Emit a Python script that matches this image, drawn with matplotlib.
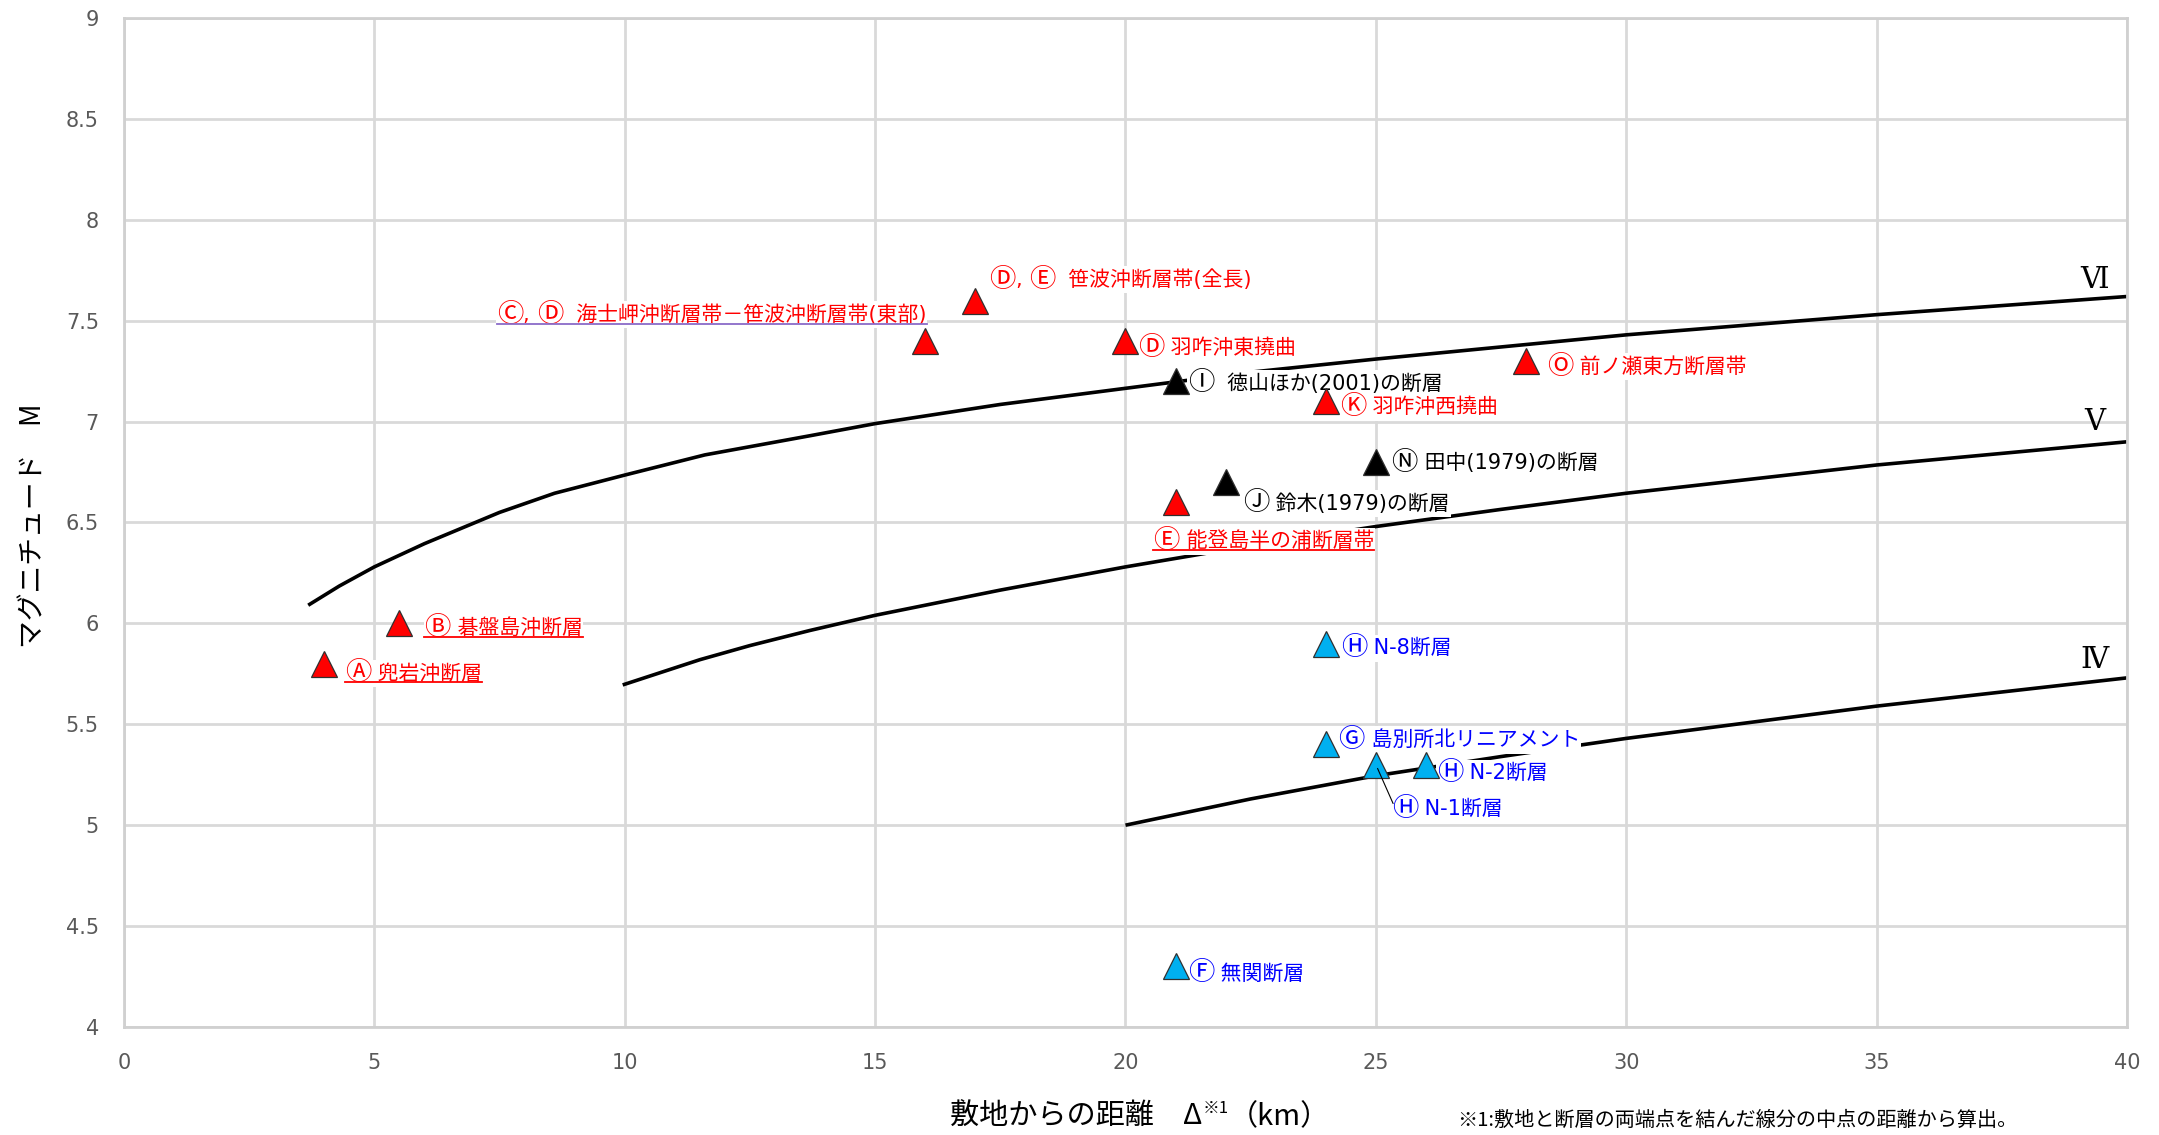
import matplotlib
matplotlib.use('Agg')
from matplotlib import pyplot as plt
from matplotlib.lines import Line2D
from matplotlib.offsetbox import TextArea, HPacker, AnnotationBbox

plt.rcParams['font.family'] = ['Noto Sans CJK JP', 'DejaVu Sans']
plt.rcParams['axes.unicode_minus'] = False

# 断層データ（敷地からの距離 km, マグニチュード M）
red_x = [4, 5.5, 16, 17, 20, 21, 24, 28]
red_y = [5.8, 6.0, 7.4, 7.6, 7.4, 6.6, 7.1, 7.3]
red_names = ['Ⓐ 兜岩沖断層', 'Ⓑ 碁盤島沖断層', 'Ⓒ, Ⓓ  海士岬沖断層帯－笹波沖断層帯(東部)',
             'Ⓓ, Ⓔ  笹波沖断層帯(全長)', 'Ⓓ 羽咋沖東撓曲', 'Ⓔ 能登島半の浦断層帯',
             'Ⓚ 羽咋沖西撓曲', 'Ⓞ 前ノ瀬東方断層帯']

black_x = [21, 22, 25]
black_y = [7.2, 6.7, 6.8]
black_names = ['Ⓘ  徳山ほか(2001)の断層', 'Ⓙ 鈴木(1979)の断層', 'Ⓝ 田中(1979)の断層']

blue_x = [24, 24, 25, 26, 21]
blue_y = [5.9, 5.4, 5.3, 5.3, 4.3]
blue_names = ['Ⓗ N-8断層', 'Ⓖ 島別所北リニアメント', 'Ⓗ N-1断層', 'Ⓗ N-2断層', 'Ⓕ 無関断層']

# 震度境界線
vi_x = [3.68, 4.3, 5, 6, 7.5, 8.6, 10, 11.6, 13.7, 15, 17.5, 20, 22.5, 25, 27.5, 30, 35, 40]
vi_y = [6.09, 6.185, 6.28, 6.395, 6.55, 6.645, 6.735, 6.835, 6.93, 6.99, 7.085, 7.165,
        7.245, 7.31, 7.37, 7.43, 7.53, 7.62]
v_x = [9.96, 11.5, 12.5, 13.7, 15, 17.5, 20, 22.5, 25, 27.5, 30, 35, 40]
v_y = [5.695, 5.82, 5.89, 5.965, 6.04, 6.165, 6.28, 6.385, 6.48, 6.565, 6.645, 6.785, 6.90]
iv_x = [20, 22.5, 25, 27.5, 30, 35, 40]
iv_y = [5.0, 5.13, 5.245, 5.34, 5.43, 5.59, 5.73]
curve_names = ['Ⅵ', 'Ⅴ', 'Ⅳ']

x_ticks = [0, 5, 10, 15, 20, 25, 30, 35, 40]
y_ticks = [4, 4.5, 5, 5.5, 6, 6.5, 7, 7.5, 8, 8.5, 9]

# ラベル配置（offset points, 右寄せ, 下線色）
red_pos = [((15, -7), False, '#FF0000'), ((18, -3), False, '#FF0000'),
           ((1, 19), True, '#8A6BC8'), ((10, 15), False, None),
           ((9, -5), False, None), ((-16, -28), False, '#FF0000'),
           ((10, -4), False, None), ((15, -4), False, None)]
black_pos = [(9, -1.5), (12.5, -15.3), (11, -1)]
blue_pos = [(11, -3.4), (9, 3.2), (11.4, -32), (8, -6.2), (9, -5)]
roman_pos = [(39.36, 7.70), (39.36, 7.0), (39.36, 5.82)]

fig = plt.figure(figsize=(21.59, 11.35), dpi=100)
ax = fig.add_axes([0.0574, 0.0952, 0.9278, 0.8889])

ax.set_xlim(0, 40)
ax.set_ylim(4, 9)
ax.set_xticks(x_ticks)
ax.set_yticks(y_ticks)
ax.set_xticklabels([str(v) for v in x_ticks], family='DejaVu Sans')
ax.set_yticklabels([('%g' % v) for v in y_ticks], family='DejaVu Sans')
ax.tick_params(length=0, labelsize=15, labelcolor='#595959')
ax.tick_params(axis='x', pad=19)
ax.tick_params(axis='y', pad=18)
ax.grid(True, color='#D9D9D9', lw=2)
ax.set_axisbelow(True)
for s in ax.spines.values():
    s.set_color('#D0D0D0')
    s.set_linewidth(2)

# 震度境界線
for cx, cy in [(vi_x, vi_y), (v_x, v_y), (iv_x, iv_y)]:
    ax.plot(cx, cy, color='black', lw=2.6, zorder=2, solid_capstyle='butt',
            solid_joinstyle='round')
for name, (rx, ry) in zip(curve_names, roman_pos):
    ax.text(rx, ry, name, fontsize=21, ha='center', va='center',
            family=['DejaVu Serif', 'Noto Sans CJK JP'], zorder=3)

mk = dict(marker='^', ms=19, ls='none', mec='#303030', mew=0.9, zorder=5)
ax.plot(red_x, red_y, mfc='#FF0000', **mk)
ax.plot(black_x, black_y, mfc='#000000', **mk)
ax.plot(blue_x, blue_y, mfc='#00B0F0', **mk)


def is_circled(ch):
    return 0x24B6 <= ord(ch) <= 0x24E9


def fault_label(x, y, name, off, color, right=False, z=4):
    # 丸囲み文字だけ大きめに描く
    runs = []
    for ch in name:
        if runs and is_circled(ch) == runs[-1][0]:
            runs[-1][1] += ch
        else:
            runs.append([is_circled(ch), ch])
    areas = []
    for circ, s in runs:
        areas.append(TextArea(s, textprops=dict(fontsize=19 if circ else 15, color=color,
                                                family=['DejaVu Sans', 'Noto Sans CJK JP'])))
    pack = HPacker(children=areas, align='center', pad=0, sep=0)
    ab = AnnotationBbox(pack, (x, y), xybox=off, xycoords='data', boxcoords='offset points',
                        box_alignment=(1 if right else 0, 0.5), pad=0.05, frameon=True,
                        bboxprops=dict(fc='white', ec='none'), zorder=z)
    ax.add_artist(ab)
    return areas


underlined = []
for x, y, name, off in zip(black_x, black_y, black_names, black_pos):
    fault_label(x, y, name, off, 'black', z=4)
for x, y, name, (off, right, ul) in zip(red_x, red_y, red_names, red_pos):
    areas = fault_label(x, y, name, off, '#FF0000', right, z=4.2)
    if ul:
        underlined.append((areas, ul))
for x, y, name, off in zip(blue_x, blue_y, blue_names, blue_pos):
    fault_label(x, y, name, off, '#0000FF', z=4.1)
    if 'N-1' in name:
        ax.annotate('', (x, y), xytext=(off[0] + 1, off[1] + 4), textcoords='offset points',
                    arrowprops=dict(arrowstyle='-', color='black', lw=0.8,
                                    shrinkA=0, shrinkB=3), zorder=6)

# 軸ラベル
fig.text(0.0157, 0.537, 'マグニチュード　M', rotation=90, ha='center', va='center', fontsize=20)
fig.canvas.draw()
renderer = fig.canvas.get_renderer()
inv = fig.transFigure.inverted()

for areas, c in underlined:
    bbs = [a._text.get_window_extent(renderer) for a in areas]
    xa = min(b.x0 for b in bbs)
    xb = max(b.x1 for b in bbs)
    yb = bbs[-1].y0 + 1
    (x0, y0), (x1, _) = inv.transform([(xa, yb), (xb, yb)])
    fig.add_artist(Line2D([x0, x1], [y0, y0], color=c, lw=1.3, zorder=10))

px = 950
for piece, size, dy in [('敷地からの距離　Δ', 21, 0), ('※1', 12, 9), ('（km）', 21, 0)]:
    fx, fy = inv.transform((px, 18 + dy))
    t = fig.text(fx, fy, piece, fontsize=size, ha='left', va='center')
    px = t.get_window_extent(renderer).x1

fig.text(1457 / 2159, 0.0125, '※1:敷地と断層の両端点を結んだ線分の中点の距離から算出。',
         fontsize=14.5, ha='left', va='center')

fig.savefig('out.png', dpi=100)
